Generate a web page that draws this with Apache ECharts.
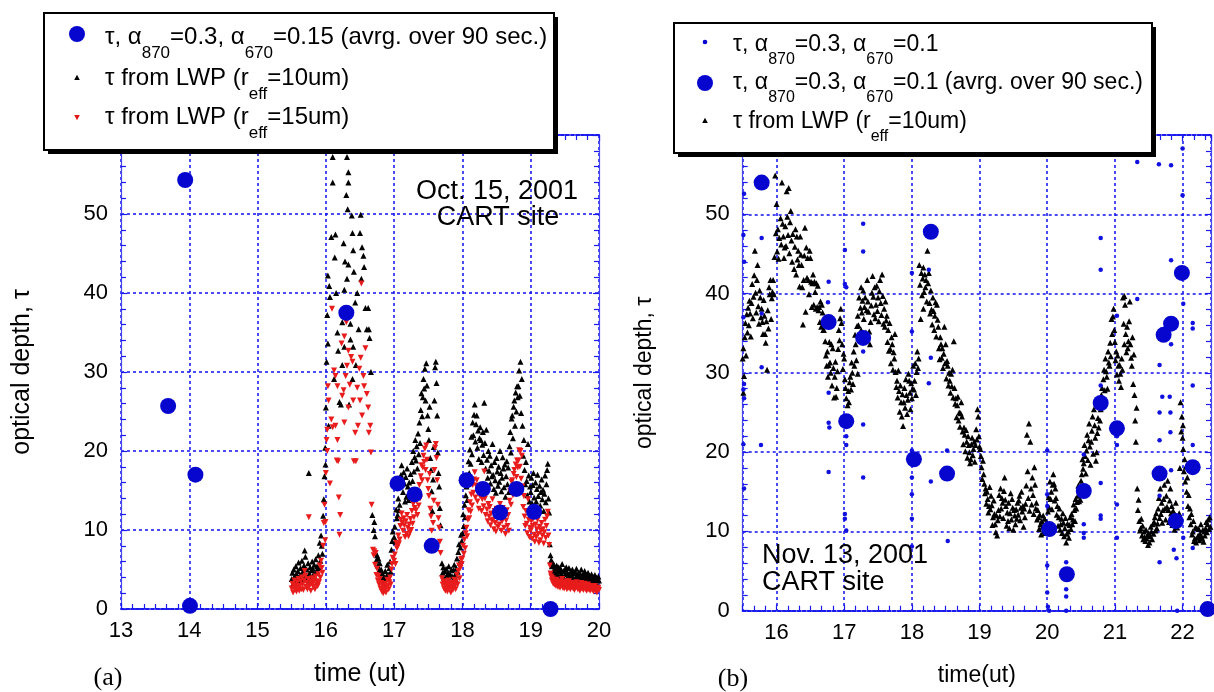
<!DOCTYPE html>
<html>
<head>
<meta charset="utf-8">
<title>optical depth, Oct 15 / Nov 13 2001</title>
<script src="https://cdn.jsdelivr.net/npm/echarts@6/dist/echarts.min.js"></script>
<style>
  html, body { margin: 0; padding: 0; background: #fff; }
  #chart { width: 1214px; height: 692px; }
</style>
</head>
<body>
<div id="chart"></div>
<script>
// ---- panel (a): Oct. 15, 2001 ----
const rangeA = [13, 20];
// tau, a870=0.3, a670=0.15, 90 s averages
const bigA = [[13.69,25.7],[13.94,54.3],[14.01,0.4],[14.09,17.0],[16.30,37.5],[17.05,15.9],[17.30,14.5],[17.55,8.0],
  [18.06,16.3],[18.30,15.2],[18.55,12.2],[18.79,15.2],[19.05,12.3],[19.29,0.0]];
// tau from LWP, r_eff = 10um
const lwp10A = [
  [15.50,3.8],[15.51,4.6],[15.52,3.2],[15.53,5.0],[15.54,4.1],[15.55,3.5],[15.56,5.4],[15.57,4.4],[15.58,3.9],[15.59,4.8],
  [15.60,5.9],[15.61,3.6],[15.62,4.3],[15.63,5.2],[15.64,4.0],[15.65,6.1],[15.66,4.7],[15.67,3.8],[15.68,5.5],[15.69,7.4],
  [15.70,6.6],[15.71,4.2],[15.72,5.0],[15.73,3.9],[15.74,5.8],[15.75,17.2],[15.76,4.5],[15.77,5.3],[15.78,3.7],[15.79,4.9],
  [15.80,6.0],[15.81,5.1],[15.82,4.4],[15.83,5.6],[15.84,3.9],[15.85,6.3],[15.86,4.8],[15.87,5.4],[15.88,4.6],[15.89,6.8],
  [15.90,5.2],[15.91,8.4],[15.92,6.1],[15.93,9.3],[15.94,8.0],[15.95,7.0],[15.96,11.8],[15.97,13.9],[15.98,16.8],[15.99,20.4],[15.995,18.3],
  [16.00,25.5],[16.01,31.3],[16.02,37.2],[16.03,42.2],[16.03,33.6],[16.04,23.2],[16.05,40.9],[16.06,39.5],[16.08,47.1],[16.10,57.2],
  [16.10,54.0],[16.12,29.1],[16.13,44.5],[16.14,47.4],[16.15,40.0],[16.17,35.0],[16.18,32.7],[16.20,26.2],[16.22,25.9],[16.24,36.3],
  [16.24,30.9],[16.26,46.3],[16.27,40.4],[16.27,33.2],[16.28,44.0],[16.30,52.4],[16.31,57.2],[16.31,41.8],[16.32,50.6],[16.33,55.3],
  [16.33,54.0],[16.33,43.6],[16.34,25.9],[16.36,36.1],[16.36,34.1],[16.38,49.8],[16.39,47.6],[16.39,29.1],[16.40,45.4],[16.40,33.2],
  [16.41,42.7],[16.43,38.8],[16.44,30.9],[16.46,40.0],[16.48,35.4],[16.50,47.6],[16.51,49.9],[16.52,41.8],[16.53,45.8],[16.55,44.7],
  [16.56,43.3],[16.58,38.1],[16.60,35.4],[16.62,38.1],[16.63,35.4],[16.64,34.3],[16.66,30.0],
  [16.68,11.9],[16.70,10.0],[16.71,11.0],[16.72,9.2],[16.73,7.1],[16.74,6.2],[16.75,6.8],[16.76,5.5],[16.77,6.4],[16.78,4.9],
  [16.79,5.8],[16.80,4.2],[16.81,5.0],[16.82,3.6],[16.83,4.5],[16.84,3.1],[16.85,4.0],[16.86,3.5],[16.87,4.8],[16.88,3.3],
  [16.89,4.2],[16.90,5.6],[16.91,4.4],[16.92,3.8],[16.93,5.2],[16.94,6.0],[16.95,4.7],[16.96,7.5],[16.97,8.6],[16.98,9.8],
  [17.00,9.1],[17.01,10.4],[17.02,8.5],[17.03,12.6],[17.04,11.5],[17.05,11.9],[17.06,14.0],[17.07,12.5],[17.08,13.2],[17.09,15.8],
  [17.10,17.0],[17.11,18.2],[17.12,16.4],[17.13,14.8],[17.14,17.3],[17.15,15.9],[17.16,13.6],[17.17,16.7],[17.18,14.2],[17.19,17.8],
  [17.20,15.5],[17.21,13.8],[17.22,16.0],[17.23,14.6],[17.24,17.1],[17.25,15.0],[17.26,18.6],[17.27,16.2],[17.28,20.0],[17.29,17.4],
  [17.30,19.2],[17.31,21.4],[17.32,18.8],[17.33,20.6],[17.34,17.8],[17.35,22.2],[17.36,19.6],[17.37,23.6],[17.38,21.0],[17.39,25.2],
  [17.40,27.3],[17.41,24.4],[17.42,26.8],[17.43,29.1],[17.44,27.9],[17.45,30.4],[17.46,26.4],[17.47,31.1],[17.48,28.3],[17.49,24.5],
  [17.50,22.8],[17.51,21.4],[17.52,25.6],[17.53,19.1],[17.54,17.6],[17.55,14.9],[17.56,12.4],[17.57,16.4],[17.58,20.5],[17.59,26.4],
  [17.60,30.6],[17.61,31.3],[17.62,28.6],[17.63,24.5],[17.64,19.8],[17.65,17.2],[17.66,15.5],[17.67,12.8],[17.68,10.6],
  [17.70,5.8],[17.71,4.6],[17.72,5.3],[17.73,3.9],[17.74,4.8],[17.75,3.5],[17.76,5.1],[17.77,4.2],[17.78,3.3],[17.79,4.6],
  [17.80,5.4],[17.81,3.7],[17.82,4.4],[17.83,3.2],[17.84,5.0],[17.85,4.1],[17.86,3.6],[17.87,4.9],[17.88,5.6],[17.89,4.3],
  [17.90,3.8],[17.91,5.2],[17.92,6.4],[17.93,4.7],[17.94,7.2],[17.95,8.2],[17.96,5.9],[17.97,7.8],[17.98,9.4],[17.99,8.6],
  [18.00,9.6],[18.01,12.0],[18.02,10.5],[18.03,13.2],[18.04,11.6],[18.05,14.4],[18.06,15.5],[18.07,13.8],[18.08,16.9],[18.09,18.7],
  [18.10,17.2],[18.11,20.2],[18.12,18.4],[18.13,21.8],[18.14,19.6],[18.15,23.6],[18.16,22.0],[18.17,24.6],[18.18,25.9],[18.19,21.2],
  [18.20,23.4],[18.21,24.5],[18.22,20.4],[18.23,22.6],[18.24,19.0],[18.25,21.6],[18.26,23.0],[18.27,21.4],[18.28,18.6],[18.29,20.8],
  [18.30,22.4],[18.31,19.5],[18.32,26.1],[18.33,21.0],[18.34,17.8],[18.35,22.7],[18.36,18.9],[18.37,16.6],[18.38,20.0],[18.39,17.5],
  [18.40,19.4],[18.41,15.9],[18.42,18.2],[18.43,16.8],[18.44,20.9],[18.45,17.0],[18.46,15.2],[18.47,18.6],[18.48,16.3],[18.49,14.7],
  [18.50,19.1],[18.51,17.4],[18.52,15.6],[18.53,18.0],[18.54,16.1],[18.55,20.0],[18.56,17.2],[18.57,14.9],[18.58,16.6],[18.59,19.2],
  [18.60,17.8],[18.61,15.4],[18.62,18.3],[18.63,14.2],[18.64,16.8],[18.65,18.7],[18.66,15.8],[18.67,17.9],[18.68,14.8],[18.69,20.6],
  [18.70,22.4],[18.71,19.8],[18.72,24.1],[18.73,24.5],[18.74,21.6],[18.75,25.6],[18.76,26.4],[18.77,23.2],[18.78,27.4],[18.79,25.0],
  [18.80,28.2],[18.81,26.8],[18.82,28.2],[18.83,30.2],[18.84,27.0],[18.85,31.3],[18.86,24.8],[18.87,29.1],[18.88,23.2],[18.89,19.4],
  [18.90,21.4],[18.91,17.6],[18.92,15.8],[18.93,18.6],[18.94,16.2],[18.95,14.4],[18.96,20.9],[18.97,16.9],[18.98,13.6],[18.99,15.5],
  [19.00,14.8],[19.01,16.6],[19.02,13.4],[19.03,15.7],[19.04,17.2],[19.05,14.1],[19.06,12.8],[19.07,16.0],[19.08,13.6],[19.09,15.2],
  [19.10,17.0],[19.11,14.3],[19.12,12.6],[19.13,15.6],[19.14,13.1],[19.15,14.8],[19.16,16.4],[19.17,13.9],[19.18,15.1],[19.19,12.4],
  [19.20,14.6],[19.21,16.9],[19.22,13.5],[19.23,15.8],[19.24,17.6],[19.25,18.4],[19.26,14.0],[19.27,12.2],
  [19.28,8.2],[19.29,6.8],[19.30,6.2],[19.31,5.4],[19.32,5.9],[19.33,4.8],[19.34,5.6],[19.35,4.6],[19.36,5.2],[19.37,4.4],
  [19.38,5.5],[19.39,4.9],[19.40,4.2],[19.41,5.3],[19.42,4.7],[19.43,4.0],[19.44,5.1],[19.45,4.5],[19.46,5.7],[19.47,4.1],
  [19.48,4.8],[19.49,3.9],[19.50,5.0],[19.51,4.4],[19.52,5.3],[19.53,3.8],[19.54,4.6],[19.55,4.1],[19.56,5.2],[19.57,4.3],
  [19.58,3.7],[19.59,4.8],[19.60,4.2],[19.61,5.0],[19.62,3.9],[19.63,4.5],[19.64,3.6],[19.65,4.7],[19.66,4.0],[19.67,5.1],
  [19.68,4.3],[19.69,3.8],[19.70,4.6],[19.71,4.1],[19.72,3.5],[19.73,4.4],[19.74,5.0],[19.75,3.9],[19.76,4.2],[19.77,3.6],
  [19.78,4.5],[19.79,4.8],[19.80,3.8],[19.81,4.3],[19.82,3.5],[19.83,4.0],[19.84,4.6],[19.85,3.7],[19.86,4.2],[19.87,3.4],
  [19.88,3.9],[19.89,4.4],[19.90,3.6],[19.91,4.1],[19.92,3.3],[19.93,3.8],[19.94,4.3],[19.95,3.5],[19.96,4.0],[19.97,3.2],
  [19.98,3.7],[19.99,4.1],[20.00,3.6]
];
// tau from LWP, r_eff = 15um
const lwp15A = [
  [15.50,2.6],[15.51,3.2],[15.52,2.1],[15.53,2.9],[15.54,3.6],[15.55,2.4],[15.56,3.0],[15.57,2.2],[15.58,3.4],[15.59,2.7],
  [15.60,3.8],[15.61,2.3],[15.62,2.9],[15.63,3.5],[15.64,2.5],[15.65,4.0],[15.66,3.1],[15.67,2.4],[15.68,3.6],[15.69,4.8],
  [15.70,4.2],[15.71,2.8],[15.72,3.3],[15.73,2.5],[15.74,3.8],[15.75,11.6],[15.76,2.9],[15.77,3.5],[15.78,2.3],[15.79,3.2],
  [15.80,3.9],[15.81,3.3],[15.82,2.8],[15.83,3.7],[15.84,2.5],[15.85,4.1],[15.86,3.1],[15.87,3.5],[15.88,2.9],[15.89,4.4],
  [15.90,3.4],[15.91,5.5],[15.92,4.0],[15.93,6.1],[15.94,5.2],[15.95,4.6],[15.96,8.0],[15.97,10.9],[15.98,13.2],[15.99,8.7],[15.995,11.0],
  [16.00,17.2],[16.01,21.4],[16.02,20.0],[16.02,22.7],[16.03,28.2],[16.04,26.4],[16.06,15.9],[16.08,24.0],[16.09,38.0],[16.10,23.0],
  [16.12,30.2],[16.14,29.5],[16.14,23.2],[16.16,18.8],[16.17,28.2],[16.17,21.4],[16.18,18.7],[16.19,14.1],[16.20,9.4],[16.21,11.9],
  [16.23,33.6],[16.24,27.0],[16.26,27.7],[16.27,34.5],[16.27,23.6],[16.29,29.5],[16.30,36.3],[16.31,30.8],[16.32,37.4],[16.33,32.7],
  [16.33,25.5],[16.35,28.4],[16.37,31.9],[16.39,31.3],[16.40,26.4],[16.41,18.7],[16.43,22.3],[16.44,18.7],[16.46,28.0],[16.47,23.2],
  [16.49,30.4],[16.50,26.4],[16.51,31.8],[16.52,41.2],[16.53,24.5],[16.55,29.5],[16.56,28.2],[16.58,33.0],[16.60,27.2],[16.62,25.5],
  [16.63,22.3],[16.65,23.2],[16.66,19.8],
  [16.67,13.2],[16.69,7.5],[16.70,6.8],[16.71,7.3],[16.72,5.6],[16.73,7.1],[16.74,4.3],[16.75,5.1],[16.76,3.6],[16.77,4.2],
  [16.78,3.1],[16.79,3.8],[16.80,2.6],[16.81,3.3],[16.82,2.2],[16.83,2.9],[16.84,2.0],[16.85,2.6],[16.86,2.3],[16.87,3.2],
  [16.88,2.1],[16.89,2.8],[16.90,3.7],[16.91,2.9],[16.92,2.5],[16.93,3.4],[16.94,4.0],[16.95,3.1],[16.96,5.0],[16.97,5.7],[16.98,6.5],
  [17.00,6.1],[17.01,6.9],[17.02,5.7],[17.03,8.4],[17.04,7.7],[17.05,7.9],[17.06,9.3],[17.07,8.3],[17.08,8.8],[17.09,10.5],
  [17.10,11.3],[17.11,12.1],[17.12,10.9],[17.13,9.9],[17.14,11.5],[17.15,10.6],[17.16,9.1],[17.17,11.1],[17.18,9.5],[17.19,11.9],
  [17.20,10.3],[17.21,9.2],[17.22,10.7],[17.23,9.7],[17.24,11.4],[17.25,10.0],[17.26,12.4],[17.27,10.8],[17.28,13.3],[17.29,11.6],
  [17.30,12.8],[17.31,14.3],[17.32,12.5],[17.33,13.7],[17.34,11.9],[17.35,14.8],[17.36,13.1],[17.37,15.7],[17.38,14.0],[17.39,16.8],
  [17.40,18.2],[17.41,16.3],[17.42,17.9],[17.43,19.4],[17.44,18.6],[17.45,20.3],[17.46,17.6],[17.47,20.7],[17.48,18.9],[17.49,16.3],
  [17.50,15.2],[17.51,14.3],[17.52,17.1],[17.53,12.7],[17.54,11.7],[17.55,9.9],[17.56,8.3],[17.57,10.9],[17.58,13.7],[17.59,17.6],
  [17.60,20.4],[17.61,20.9],[17.62,19.1],[17.63,16.3],[17.64,13.2],[17.65,11.5],[17.66,10.3],[17.67,8.5],[17.68,7.1],
  [17.70,3.9],[17.71,3.1],[17.72,3.5],[17.73,2.6],[17.74,3.2],[17.75,2.3],[17.76,3.4],[17.77,2.8],[17.78,2.2],[17.79,3.1],
  [17.80,3.6],[17.81,2.5],[17.82,2.9],[17.83,2.1],[17.84,3.3],[17.85,2.7],[17.86,2.4],[17.87,3.3],[17.88,3.7],[17.89,2.9],
  [17.90,2.5],[17.91,3.5],[17.92,4.3],[17.93,3.1],[17.94,4.8],[17.95,5.5],[17.96,3.9],[17.97,5.2],[17.98,6.3],[17.99,5.7],
  [18.00,6.4],[18.01,8.0],[18.02,7.0],[18.03,8.8],[18.04,7.7],[18.05,9.6],[18.06,10.3],[18.07,9.2],[18.08,11.3],[18.09,12.5],
  [18.10,11.5],[18.11,13.5],[18.12,12.3],[18.13,14.5],[18.14,13.1],[18.15,15.7],[18.16,14.7],[18.17,16.4],[18.18,17.3],[18.19,14.1],
  [18.20,15.6],[18.21,16.3],[18.22,13.6],[18.23,15.1],[18.24,12.7],[18.25,14.4],[18.26,15.3],[18.27,14.3],[18.28,12.4],[18.29,13.9],
  [18.30,14.9],[18.31,13.0],[18.32,17.4],[18.33,14.0],[18.34,11.9],[18.35,15.1],[18.36,12.6],[18.37,11.1],[18.38,13.3],[18.39,11.7],
  [18.40,12.9],[18.41,10.6],[18.42,12.1],[18.43,11.2],[18.44,13.9],[18.45,11.3],[18.46,10.1],[18.47,12.4],[18.48,10.9],[18.49,9.8],
  [18.50,12.7],[18.51,11.6],[18.52,10.4],[18.53,12.0],[18.54,10.7],[18.55,13.3],[18.56,11.5],[18.57,9.9],[18.58,11.1],[18.59,12.8],
  [18.60,11.9],[18.61,10.3],[18.62,12.2],[18.63,9.5],[18.64,11.2],[18.65,12.5],[18.66,10.5],[18.67,11.9],[18.68,9.9],[18.69,13.7],
  [18.70,14.9],[18.71,13.2],[18.72,16.1],[18.73,16.3],[18.74,14.4],[18.75,17.1],[18.76,17.6],[18.77,15.5],[18.78,18.3],[18.79,16.7],
  [18.80,18.8],[18.81,17.9],[18.82,18.8],[18.83,20.1],[18.84,18.0],[18.85,20.0],[18.86,16.5],[18.87,19.4],[18.88,15.5],[18.89,12.9],
  [18.90,14.3],[18.91,11.7],[18.92,10.5],[18.93,12.4],[18.94,10.8],[18.95,9.6],[18.96,13.9],[18.97,11.3],[18.98,9.1],[18.99,10.3],
  [19.00,9.9],[19.01,11.1],[19.02,8.9],[19.03,10.5],[19.04,11.5],[19.05,9.4],[19.06,8.5],[19.07,10.7],[19.08,9.1],[19.09,10.1],
  [19.10,11.3],[19.11,9.5],[19.12,8.4],[19.13,10.4],[19.14,8.7],[19.15,9.9],[19.16,10.9],[19.17,9.3],[19.18,10.1],[19.19,8.3],
  [19.20,9.7],[19.21,11.3],[19.22,9.0],[19.23,10.5],[19.24,11.7],[19.25,12.3],[19.26,9.3],[19.27,8.1],
  [19.28,5.5],[19.29,4.5],[19.30,4.1],[19.31,3.6],[19.32,3.9],[19.33,3.2],[19.34,3.7],[19.35,3.1],[19.36,3.5],[19.37,2.9],
  [19.38,3.7],[19.39,3.3],[19.40,2.8],[19.41,3.5],[19.42,3.1],[19.43,2.7],[19.44,3.4],[19.45,3.0],[19.46,3.8],[19.47,2.7],
  [19.48,3.2],[19.49,2.6],[19.50,3.3],[19.51,2.9],[19.52,3.5],[19.53,2.5],[19.54,3.1],[19.55,2.7],[19.56,3.5],[19.57,2.9],
  [19.58,2.5],[19.59,3.2],[19.60,2.8],[19.61,3.3],[19.62,2.6],[19.63,3.0],[19.64,2.4],[19.65,3.1],[19.66,2.7],[19.67,3.4],
  [19.68,2.9],[19.69,2.5],[19.70,3.1],[19.71,2.7],[19.72,2.3],[19.73,2.9],[19.74,3.3],[19.75,2.6],[19.76,2.8],[19.77,2.4],
  [19.78,3.0],[19.79,3.2],[19.80,2.5],[19.81,2.9],[19.82,2.3],[19.83,2.7],[19.84,3.1],[19.85,2.5],[19.86,2.8],[19.87,2.3],
  [19.88,2.6],[19.89,2.9],[19.90,2.4],[19.91,2.7],[19.92,2.2],[19.93,2.5],[19.94,2.9],[19.95,2.3],[19.96,2.7],[19.97,2.1],
  [19.98,2.5],[19.99,2.7],[20.00,2.4]
];

// ---- panel (b): Nov. 13, 2001 ----
const rangeB = [15.5, 22.42];
// tau, a870=0.3, a670=0.1 (single retrievals)
const smallB = [
  [15.52,52.6],[15.51,47.4],[15.52,44.0],[15.51,37.0],[15.52,28.6],[15.51,27.9],[15.52,26.8],[15.51,21.0],[15.52,15.4],
  [15.78,47.0],[15.78,37.5],[15.78,30.7],[15.77,20.9],
  [16.76,38.9],[16.77,41.5],[16.77,27.5],[16.77,23.7],[16.78,23.1],[16.77,17.5],
  [17.01,45.5],[17.01,41.2],[17.03,40.8],[17.03,22.0],[17.03,20.9],[17.01,12.2],[17.01,11.6],[17.03,10.1],
  [17.28,48.8],[17.28,45.3],[17.28,32.7],[17.28,23.5],[17.28,16.8],
  [18.00,42.6],[18.00,35.2],[18.00,20.2],[18.00,16.8],[18.00,14.7],[18.00,11.6],[18.00,8.1],
  [18.25,43.0],[18.28,31.9],[18.25,28.7],[18.28,16.3],
  [18.52,20.2],[18.53,8.8],
  [20.00,20.2],[20.00,14.7],[20.00,13.2],[20.00,5.7],[20.00,2.3],[20.01,0.5],[20.03,0.0],
  [20.28,6.1],[20.28,2.7],[20.28,1.8],[20.28,0.0],
  [20.54,19.7],[20.54,10.9],[20.54,9.8],[20.54,9.2],
  [20.79,47.0],[20.79,43.0],[20.79,28.4],[20.79,16.1],[20.79,12.0],[20.79,11.6],
  [21.03,37.2],[21.03,22.0],[21.03,20.9],[21.03,13.4],[21.03,9.2],
  [21.33,56.6],[21.33,39.3],
  [21.65,56.3],[21.66,31.0],[21.66,25.0],[21.66,21.5],[21.66,14.5],[21.66,6.1],[21.70,27.0],
  [21.83,56.2],[21.83,44.2],[21.83,33.6],[21.81,27.0],[21.82,25.0],[21.82,22.5],[21.83,17.7],[21.87,7.7],[21.91,6.6],
  [21.92,0.0],
  [22.00,58.3],[22.00,52.4],[22.01,38.7],[22.01,9.2],
  [22.15,36.3],[22.15,35.6],[22.15,28.4],[22.15,20.9],[22.15,7.9]
];
// tau, a870=0.3, a670=0.1, 90 s averages
const bigB = [[15.78,54.0],[16.77,36.4],[17.03,23.9],[17.28,34.4],[18.03,19.1],[18.28,47.8],[18.52,17.3],[20.03,10.3],
  [20.29,4.6],[20.54,15.1],[20.79,26.2],[21.03,23.0],[21.66,17.3],[21.72,34.8],[21.83,36.2],[21.90,11.3],[21.99,42.6],
  [22.15,18.1],[22.37,0.2]];
// tau from LWP, r_eff = 10um
const lwp10B = [
  [15.50,31.8],[15.51,27.5],[15.51,33.1],[15.52,29.6],[15.53,34.5],[15.54,36.3],[15.55,32.2],[15.56,37.4],[15.57,35.1],[15.58,38.2],
  [15.59,36.0],[15.60,39.1],[15.61,37.5],[15.62,34.6],[15.63,38.8],[15.64,41.2],[15.65,36.9],[15.66,39.6],[15.67,42.3],[15.68,45.4],
  [15.69,40.1],[15.70,37.6],[15.71,41.7],[15.72,43.6],[15.73,38.4],[15.74,36.2],[15.75,40.4],[15.76,39.5],[15.77,37.0],[15.78,38.1],
  [15.79,36.4],[15.80,34.9],[15.81,39.2],[15.82,37.2],[15.83,34.9],[15.84,33.8],[15.85,36.5],[15.86,30.4],[15.87,37.9],[15.88,35.6],
  [15.89,40.8],[15.90,39.9],[15.91,41.7],[15.92,36.8],[15.93,39.4],[15.94,40.2],[15.95,41.7],[15.96,39.9],[15.97,44.6],
  [15.98,54.9],[15.99,47.6],[16.00,51.3],[16.01,45.3],[16.02,48.1],[16.03,44.4],[16.04,47.0],[16.06,49.5],[16.07,46.2],[16.08,54.0],
  [16.09,48.8],[16.10,47.2],[16.11,44.5],[16.12,45.8],[16.13,48.5],[16.14,46.0],[16.15,52.9],[16.16,49.7],[16.17,47.4],[16.18,53.3],
  [16.19,45.1],[16.20,49.0],[16.21,50.4],[16.22,46.7],[16.23,44.0],[16.24,47.5],
  [16.26,43.1],[16.27,45.9],[16.28,48.1],[16.29,42.4],[16.30,47.2],[16.31,44.3],[16.32,45.4],[16.33,43.6],[16.34,40.9],[16.35,47.2],
  [16.36,44.9],[16.37,43.6],[16.38,40.8],[16.39,36.1],[16.40,41.7],[16.41,44.8],[16.42,48.3],[16.43,37.7],[16.44,45.8],[16.45,42.0],
  [16.46,44.5],[16.47,41.7],[16.48,39.9],[16.49,45.4],[16.50,44.5],
  [16.51,41.5],[16.52,38.3],[16.53,41.3],[16.54,42.4],[16.55,38.6],[16.56,41.5],[16.57,40.2],[16.58,38.1],[16.59,41.3],[16.60,38.3],
  [16.61,41.0],[16.62,37.9],[16.63,38.3],[16.64,36.4],[16.65,39.0],[16.66,35.8],[16.67,38.6],[16.68,37.6],[16.69,35.4],
  [16.70,35.4],[16.71,36.8],[16.72,34.0],[16.73,32.2],[16.74,30.9],[16.75,32.7],[16.76,29.5],[16.77,31.0],[16.78,33.9],[16.79,31.3],
  [16.80,30.0],[16.81,33.6],[16.82,28.4],[16.83,33.1],[16.84,30.6],[16.85,26.9],[16.86,29.5],[16.87,31.4],[16.88,27.0],[16.89,28.1],
  [16.90,30.2],[16.91,33.0],[16.92,35.4],[16.93,34.1],[16.94,36.9],[16.95,38.1],[16.96,36.3],[16.97,33.6],[16.98,30.5],[16.99,32.4],
  [17.00,31.8],[17.01,29.2],[17.02,28.1],[17.03,26.8],[17.04,24.0],[17.05,25.9],
  [17.06,24.5],[17.06,27.7],[17.07,26.3],[17.08,28.8],[17.09,29.5],[17.10,27.9],[17.11,31.3],[17.12,30.0],[17.13,28.6],[17.14,32.7],
  [17.15,30.9],[17.16,34.8],[17.17,33.6],[17.18,31.6],[17.19,35.9],[17.20,37.2],[17.20,29.9],[17.21,36.0],[17.22,39.5],[17.23,34.4],
  [17.24,38.2],[17.25,40.8],[17.25,35.4],[17.26,37.6],[17.27,39.1],[17.28,40.4],[17.29,36.8],[17.30,38.3],[17.31,39.5],[17.32,35.1],
  [17.33,37.9],[17.34,41.7],[17.35,39.0],[17.36,37.7],[17.37,35.2],[17.38,33.6],[17.39,36.4],[17.40,38.5],[17.41,40.1],
  [17.42,42.2],[17.43,39.6],[17.44,37.4],[17.45,40.8],[17.46,36.9],[17.47,38.6],[17.48,41.0],[17.49,37.8],[17.50,39.5],[17.51,36.5],
  [17.52,40.3],[17.53,41.7],[17.54,38.8],[17.55,37.3],[17.56,42.4],[17.57,39.7],[17.58,36.2],[17.59,38.1],[17.60,35.8],[17.61,39.0],
  [17.62,36.6],[17.63,37.2],[17.64,33.9],[17.65,35.4],[17.66,32.8],[17.67,36.3],[17.68,33.0],[17.69,31.2],[17.70,34.5],[17.71,33.6],
  [17.72,30.4],[17.73,32.6],[17.74,31.8],[17.75,34.9],[17.76,30.1],[17.77,28.2],
  [17.78,29.0],[17.79,26.9],[17.80,30.3],[17.81,27.7],[17.82,25.1],[17.83,28.4],[17.84,26.3],[17.85,24.5],[17.86,27.3],[17.87,23.3],
  [17.88,26.3],[17.89,28.1],[17.90,25.6],[17.91,29.2],[17.92,27.2],[17.93,24.8],[17.94,26.6],[17.95,29.9],[17.96,29.0],[17.97,27.5],
  [17.98,25.4],[17.99,28.7],[18.00,26.8],[18.01,28.0],[18.02,30.9],[18.03,27.9],[18.04,29.0],[18.05,31.2],[18.06,27.2],[18.07,30.1],
  [18.08,32.7],[18.09,30.6],[18.10,31.8],
  [18.11,43.6],[18.12,41.1],[18.13,36.8],[18.14,42.6],[18.15,39.8],[18.16,41.9],[18.17,43.3],[18.17,38.1],[18.18,40.2],[18.19,42.4],
  [18.20,40.8],[18.21,41.7],[18.22,39.0],[18.23,45.4],[18.24,41.3],[18.25,42.6],[18.26,38.8],[18.27,37.5],[18.28,40.4],[18.29,38.0],
  [18.30,36.1],[18.31,39.5],[18.32,37.8],[18.33,35.4],[18.34,37.2],[18.35,38.9],[18.36,34.6],[18.37,38.6],[18.38,36.7],
  [18.39,35.8],[18.40,33.1],[18.41,31.7],[18.42,34.5],[18.43,33.6],[18.44,31.9],[18.45,33.1],[18.46,30.6],[18.47,32.4],[18.48,35.8],
  [18.49,31.2],[18.50,33.6],[18.51,29.3],[18.52,31.5],[18.53,30.9],[18.54,28.4],[18.55,30.0],[18.56,29.0],[18.57,27.5],[18.58,29.9],
  [18.59,28.3],[18.60,30.4],[18.61,26.9],[18.62,34.0],[18.63,28.1],[18.64,26.1],[18.65,26.8],[18.66,24.4],[18.67,25.9],[18.68,27.0],
  [18.69,24.0],[18.70,25.0],[18.71,23.2],[18.72,24.9],[18.73,26.3],[18.74,24.5],
  [18.75,22.6],[18.76,21.0],[18.77,23.1],[18.78,22.2],[18.79,20.1],[18.80,22.8],[18.81,21.3],[18.82,19.3],[18.83,22.0],[18.84,20.9],
  [18.85,20.0],[18.86,18.6],[18.87,19.1],[18.88,21.0],[18.89,21.8],[18.90,19.6],[18.91,20.4],[18.92,21.3],[18.93,18.8],[18.94,20.9],
  [18.95,22.9],[18.96,21.6],[18.97,25.4],[18.98,24.5],[18.99,22.0],[19.00,20.7],[19.01,20.4],[19.02,19.5],[19.03,18.1],[19.04,16.6],
  [19.05,18.9],[19.06,17.2],[19.07,16.0],[19.08,14.8],
  [19.09,15.4],[19.10,13.5],[19.11,15.0],[19.12,14.1],[19.13,12.4],[19.14,13.2],[19.15,15.6],[19.16,12.8],[19.17,14.5],[19.18,13.3],
  [19.19,10.8],[19.20,11.8],[19.21,13.9],[19.22,12.2],[19.23,10.9],[19.24,9.9],[19.25,12.0],[19.26,9.5],[19.27,11.4],[19.28,12.7],
  [19.29,14.6],[19.30,11.9],[19.31,15.4],[19.32,12.9],[19.33,14.2],[19.34,13.6],[19.35,11.7],[19.36,15.1],[19.37,16.8],[19.38,14.0],
  [19.39,13.2],[19.40,10.7],[19.41,12.4],[19.42,11.3],[19.43,13.6],[19.44,10.4],[19.45,12.3],[19.46,14.8],[19.47,11.5],[19.48,14.1],
  [19.49,13.0],[19.50,10.2],[19.51,12.7],
  [19.52,12.0],[19.53,10.9],[19.54,12.8],[19.55,11.6],[19.56,13.6],[19.57,12.1],[19.58,13.9],[19.59,14.5],[19.60,11.4],[19.61,13.0],
  [19.62,15.0],[19.63,12.5],[19.64,13.2],[19.65,10.6],[19.66,12.9],[19.67,11.8],[19.68,13.5],[19.69,15.8],[19.70,22.2],[19.71,17.6],
  [19.72,14.2],[19.73,23.6],[19.74,12.6],[19.75,21.3],[19.76,15.4],[19.77,13.4],[19.78,16.8],[19.79,14.6],[19.80,12.2],[19.81,18.1],
  [19.82,15.9],[19.83,12.9],[19.84,13.6],[19.85,11.5],[19.86,12.7],[19.87,11.8],[19.88,10.3],[19.89,12.1],[19.90,10.9],[19.91,9.6],
  [19.92,11.3],[19.93,10.6],[19.94,12.0],[19.95,10.0],[19.96,11.6],[19.97,9.8],[19.98,10.4],[19.99,11.2],
  [20.00,10.1],[20.01,12.5],[20.02,14.3],[20.03,13.0],[20.04,16.3],[20.05,14.1],[20.06,15.0],[20.07,12.8],[20.08,15.9],[20.09,17.2],
  [20.10,16.0],[20.11,13.9],[20.12,15.4],[20.13,14.2],[20.14,12.1],[20.15,13.2],[20.16,10.7],[20.17,11.8],[20.18,12.9],[20.19,10.2],
  [20.20,10.9],[20.21,11.6],[20.22,9.8],[20.23,12.3],[20.24,11.1],[20.25,9.4],[20.26,10.4],[20.27,11.7],[20.28,8.6],[20.29,9.7],
  [20.30,11.0],[20.31,10.0],[20.32,9.2],[20.33,10.8],[20.34,11.8],[20.35,10.3],[20.36,12.2],[20.37,10.9],[20.38,11.5],[20.39,13.4],
  [20.40,12.7],[20.41,11.3],[20.42,14.1],[20.43,12.9],[20.44,13.7],[20.45,14.5],[20.46,15.8],[20.47,13.8],[20.48,15.4],[20.49,14.0],
  [20.50,16.4],[20.51,17.2],[20.52,19.1],[20.53,17.9],[20.54,18.6],[20.55,20.9],[20.56,19.5],[20.57,17.3],[20.58,20.2],[20.59,22.2],
  [20.60,19.0],[20.61,21.5],[20.62,23.6],[20.63,20.7],[20.64,18.4],[20.65,21.3],[20.66,22.7],[20.67,24.5],[20.68,19.8],[20.69,25.4],
  [20.70,23.4],[20.71,21.8],[20.72,18.9],[20.73,20.0],[20.74,22.4],[20.75,24.3],[20.76,23.1],[20.77,26.6],[20.78,24.0],[20.79,25.4],
  [20.80,27.2],[20.81,28.1],[20.82,26.0],[20.83,29.2],[20.84,30.4],[20.85,27.8],[20.86,31.8],[20.87,30.2],[20.88,29.5],[20.89,28.0],
  [20.90,32.7],[20.91,31.3],[20.92,30.9],[20.93,33.8],[20.94,32.1],[20.95,36.8],[20.96,34.9],[20.97,37.1],[20.98,38.1],[20.99,35.4],
  [21.00,33.9],[21.01,31.6],[21.02,32.7],[21.03,29.8],[21.04,32.2],[21.05,30.9],[21.06,29.0],[21.07,31.0],[21.08,29.9],[21.09,28.2],
  [21.10,31.8],[21.11,30.4],[21.12,39.5],[21.13,36.2],[21.14,33.6],[21.14,39.7],[21.15,38.6],[21.16,34.9],[21.17,32.6],[21.18,35.8],
  [21.19,33.1],[21.20,34.0],[21.21,36.5],[21.22,39.0],[21.23,33.6],[21.24,31.9],[21.25,30.9],[21.26,34.5],[21.27,28.6],[21.28,32.3],
  [21.29,27.2],[21.30,24.0],[21.31,21.3],[21.32,25.6],
  [21.33,15.4],[21.34,12.7],[21.35,14.0],[21.36,11.3],[21.37,10.1],[21.38,10.4],[21.39,11.6],[21.40,9.5],[21.41,10.7],[21.42,9.0],
  [21.43,10.0],[21.44,9.3],[21.45,8.8],[21.46,10.2],[21.47,9.1],[21.48,9.5],[21.49,8.3],[21.50,9.8],[21.51,8.6],[21.52,9.4],
  [21.53,10.6],[21.54,10.0],[21.55,9.0],[21.56,10.9],[21.57,9.7],[21.58,11.2],[21.59,11.8],[21.60,10.1],[21.61,12.3],[21.62,10.4],
  [21.63,11.0],[21.64,12.9],
  [21.65,14.2],[21.66,11.7],[21.67,15.4],[21.68,12.2],[21.69,13.6],[21.70,11.1],[21.71,12.7],[21.72,14.1],[21.73,15.9],[21.74,12.9],
  [21.75,11.5],[21.76,14.5],[21.77,13.1],[21.78,16.4],[21.79,12.7],[21.80,11.2],[21.81,13.9],[21.82,15.4],[21.83,12.3],[21.84,13.2],
  [21.85,10.8],[21.86,12.6],[21.87,11.8],[21.88,10.2],[21.89,12.1],[21.90,13.6],[21.91,11.0],[21.92,10.5],[21.93,10.9],[21.94,11.9],
  [21.95,12.3],
  [21.96,18.0],[21.97,26.3],[21.98,22.6],[21.99,24.5],[22.00,21.8],[22.005,23.4],[22.01,20.4],[22.02,17.6],[22.03,19.1],[22.04,16.3],
  [22.05,18.2],[22.06,15.0],[22.07,16.8],[22.08,13.2],[22.09,14.6],[22.10,11.8],[22.11,12.9],[22.12,10.9],[22.13,12.2],[22.14,9.6],
  [22.15,10.0],[22.16,11.3],[22.17,8.8],[22.18,9.1],[22.19,10.5],[22.20,8.6],[22.21,10.4],
  [22.22,9.2],[22.23,9.5],[22.24,10.3],[22.25,8.9],[22.26,9.7],[22.27,10.9],[22.28,9.3],[22.29,9.1],[22.30,10.2],[22.31,8.7],
  [22.32,10.0],[22.33,9.5],[22.34,10.4],[22.35,11.2],[22.36,9.9],[22.37,10.9],[22.38,11.5],[22.39,10.3],[22.40,11.8],[22.41,10.6]
];

const tauRange = [0, 60];
const tauStep = 10;

// ---- styles ----
const sans = 'Liberation Sans';
const frameBlue = '#1a1aee';
const gridDots = { color: '#1010ee', width: 1.5, type: [3, 3] };
const textBlue = '#2020dc';
const textRed = '#e41414';
const dotBlue = '#0606cf';

const intOnly = v => (Math.abs(v - Math.round(v)) < 1e-6 && v < 59.9) ? String(Math.round(v)) : '';

function xPair(grid, range, step, name, nameSize) {
  const base = { type: 'value', gridIndex: grid, min: range[0], max: range[1] };
  if (step) base.interval = step; else base.splitNumber = 7;
  return [
    Object.assign({}, base, {
      position: 'bottom',
      axisLine: { show: true, onZero: false, lineStyle: { color: frameBlue, width: 2, type: [3, 2] } },
      axisTick: { show: true, inside: true, length: 6, lineStyle: { color: frameBlue, width: 1.2 } },
      minorTick: { show: true, splitNumber: 6, length: 5, lineStyle: { color: frameBlue, width: 1.2 } },
      axisLabel: { color: '#000', fontSize: 22, fontFamily: sans, margin: 11, formatter: intOnly },
      splitLine: { show: true, lineStyle: gridDots },
      name: name, nameLocation: 'middle', nameGap: 53,
      nameTextStyle: { color: '#000', fontSize: nameSize, fontFamily: sans }
    }),
    Object.assign({}, base, {
      position: 'top',
      axisLine: { show: true, onZero: false, lineStyle: { color: frameBlue, width: 2, type: [3, 2] } },
      axisTick: { show: true, inside: true, length: 6, lineStyle: { color: frameBlue, width: 1.2 } },
      minorTick: { show: true, splitNumber: 6, length: 5, lineStyle: { color: frameBlue, width: 1.2 } },
      axisLabel: { show: false },
      splitLine: { show: false }
    })
  ];
}

function yPair(grid, nameSize, nameGap) {
  const base = { type: 'value', gridIndex: grid, min: tauRange[0], max: tauRange[1], interval: tauStep };
  return [
    Object.assign({}, base, {
      position: 'left',
      axisLine: { show: true, onZero: false, lineStyle: { color: '#4646f0', width: 1.2 } },
      axisTick: { show: true, inside: true, length: 6, lineStyle: { color: frameBlue, width: 1.2 } },
      minorTick: { show: true, splitNumber: 5, length: 5, lineStyle: { color: frameBlue, width: 1.2 } },
      axisLabel: { color: '#000', fontSize: 22, fontFamily: sans, margin: 13, formatter: intOnly },
      splitLine: { show: true, lineStyle: gridDots },
      name: 'optical depth, τ', nameLocation: 'middle', nameRotate: 90, nameGap: nameGap,
      nameTextStyle: { color: '#000', fontSize: nameSize, fontFamily: sans }
    }),
    Object.assign({}, base, {
      position: 'right',
      axisLine: { show: true, onZero: false, lineStyle: { color: '#4646f0', width: 1.2 } },
      axisTick: { show: true, inside: true, length: 6, lineStyle: { color: frameBlue, width: 1.2 } },
      minorTick: { show: true, splitNumber: 5, length: 5, lineStyle: { color: frameBlue, width: 1.2 } },
      axisLabel: { show: false },
      splitLine: { show: false }
    })
  ];
}

// rich-text styles for legend lines: main text plus lowered subscripts
function richStyles(size, subSize, drop) {
  const sub = c => ({ fontSize: subSize, fontFamily: sans, color: c, verticalAlign: 'top', padding: [drop, 0, 0, 0] });
  const main = c => ({ fontSize: size, fontFamily: sans, color: c, verticalAlign: 'top' });
  return { b: main(textBlue), bs: sub(textBlue), k: main('#000'), ks: sub('#000'), r: main(textRed), rs: sub(textRed) };
}
const richA = richStyles(24, 17, 20);
const richB = richStyles(23, 16, 19);

function legendText(x, rowY, text, rich) {
  return { type: 'text', x: x, y: rowY - 12, z: 102,
    style: { text: text, rich: rich, align: 'left', verticalAlign: 'top', textAlign: 'left', textVerticalAlign: 'top' } };
}
function plainText(x, y, text, size, family, align) {
  return { type: 'text', x: x, y: y, z: 102,
    style: { text: text, fill: '#000', font: size + 'px "' + family + '"',
      align: align, verticalAlign: 'middle', textAlign: align, textVerticalAlign: 'middle' } };
}
// white box with black outline and a hard black drop shadow to the lower right
function legendBox(x, y, w, h) {
  return [
    { type: 'rect', z: 99, shape: { x: x + 4, y: y + 4, width: w, height: h }, style: { fill: '#000' } },
    { type: 'rect', z: 100, shape: { x: x, y: y, width: w, height: h }, style: { fill: '#fff', stroke: '#000', lineWidth: 2 } }
  ];
}
const triUp = (cx, cy) => ({ type: 'polygon', z: 101, shape: { points: [[cx, cy - 3.2], [cx - 2.8, cy + 2], [cx + 2.8, cy + 2]] }, style: { fill: '#000' } });
const triDown = (cx, cy) => ({ type: 'polygon', z: 101, shape: { points: [[cx - 2.8, cy - 2], [cx + 2.8, cy - 2], [cx, cy + 3.2]] }, style: { fill: textRed } });
const dot = (cx, cy, r) => ({ type: 'circle', z: 101, shape: { cx: cx, cy: cy, r: r }, style: { fill: dotBlue } });

const chart = echarts.init(document.getElementById('chart'), null, { renderer: 'canvas' });

const xA = xPair(0, rangeA, 1, 'time (ut)', 25);
const xB = xPair(1, rangeB, null, 'time(ut)', 23);
const yA = yPair(0, 25, 86);
const yB = yPair(1, 23, 87);

chart.setOption({
  animation: false,
  backgroundColor: '#fff',
  grid: [
    { left: 121, top: 135, width: 478, height: 475.7 },
    { left: 742.7, top: 135, width: 473.3, height: 475.7 }
  ],
  xAxis: [xA[0], xA[1], xB[0], xB[1]],
  yAxis: [yA[0], yA[1], yB[0], yB[1]],
  series: [
    { name: 'τ from LWP (reff=10um) a', type: 'scatter', xAxisIndex: 0, yAxisIndex: 0, data: lwp10A,
      symbol: 'triangle', symbolSize: 6, itemStyle: { color: '#000', opacity: 1 }, z: 2 },
    { name: 'τ from LWP (reff=15um) a', type: 'scatter', xAxisIndex: 0, yAxisIndex: 0, data: lwp15A,
      symbol: 'triangle', symbolRotate: 180, symbolSize: 6, itemStyle: { color: '#e81c1c', opacity: 1 }, z: 3 },
    { name: 'τ avrg a', type: 'scatter', xAxisIndex: 0, yAxisIndex: 0, data: bigA,
      symbol: 'circle', symbolSize: 16, itemStyle: { color: dotBlue, opacity: 1 }, z: 4 },
    { name: 'τ from LWP (reff=10um) b', type: 'scatter', xAxisIndex: 2, yAxisIndex: 2, data: lwp10B,
      symbol: 'triangle', symbolSize: 6, itemStyle: { color: '#000', opacity: 1 }, z: 2 },
    { name: 'τ b', type: 'scatter', xAxisIndex: 2, yAxisIndex: 2, data: smallB,
      symbol: 'circle', symbolSize: 4.5, itemStyle: { color: '#1010e0', opacity: 1 }, z: 3 },
    { name: 'τ avrg b', type: 'scatter', xAxisIndex: 2, yAxisIndex: 2, data: bigB,
      symbol: 'circle', symbolSize: 16, itemStyle: { color: dotBlue, opacity: 1 }, z: 4 }
  ],
  graphic: [
    // legend (a)
    ...legendBox(44, 13, 510, 137),
    dot(77, 34, 8),
    triUp(77, 78),
    triDown(77, 117),
    legendText(105, 37, '{b|τ, α}{bs|870}{b|=0.3, α}{bs|670}{b|=0.15 (avrg. over 90 sec.)}', richA),
    legendText(105, 78, '{k|τ from LWP (r}{ks|eff}{k|=10um)}', richA),
    legendText(105, 117, '{r|τ from LWP (r}{rs|eff}{r|=15um)}', richA),
    // legend (b)
    ...legendBox(674, 23, 478, 130),
    dot(705, 42, 2.3),
    dot(705, 83, 8),
    triUp(705, 121),
    legendText(733, 45, '{b|τ, α}{bs|870}{b|=0.3, α}{bs|670}{b|=0.1}', richB),
    legendText(733, 83, '{b|τ, α}{bs|870}{b|=0.3, α}{bs|670}{b|=0.1 (avrg. over 90 sec.)}', richB),
    legendText(733, 122, '{k|τ from LWP (r}{ks|eff}{k|=10um)}', richB),
    // site / date notes
    plainText(497, 192, 'Oct. 15, 2001', 27, sans, 'center'),
    plainText(498, 218, 'CART site', 27, sans, 'center'),
    plainText(762, 556, 'Nov. 13, 2001', 27, sans, 'left'),
    plainText(762, 583, 'CART site', 27, sans, 'left'),
    // panel tags
    plainText(108, 678, '(a)', 26, 'Liberation Serif', 'center'),
    plainText(733, 679, '(b)', 26, 'Liberation Serif', 'center')
  ]
});
</script>
</body>
</html>
